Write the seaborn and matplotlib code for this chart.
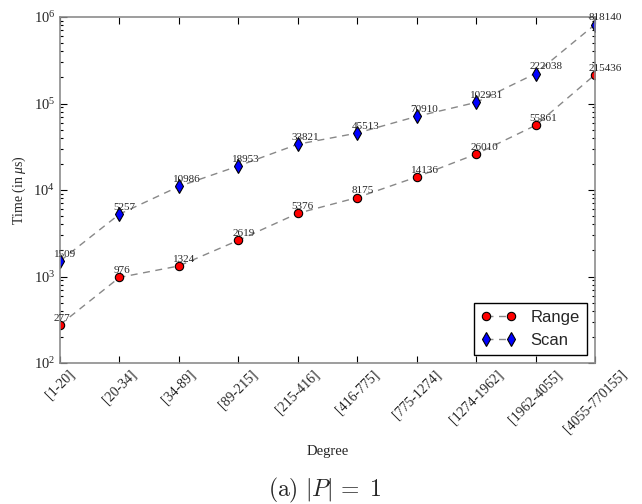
import numpy as np
import pandas as pd
import matplotlib
matplotlib.use("Agg")
import matplotlib.pyplot as plt
from matplotlib.ticker import LogLocator, NullLocator, FixedLocator
import seaborn as sns

# degree buckets and measured times (in microseconds)
categories = ["[1-20]", "[20-34]", "[34-89]", "[89-215]", "[215-416]",
              "[416-775]", "[775-1274]", "[1274-1962]", "[1962-4055]",
              "[4055-770155]"]
range_times = [277, 976, 1324, 2619, 5376, 8175, 14136, 26010, 55861, 215436]
scan_times = [1509, 5257, 10986, 18953, 33821, 45513, 70910, 102931, 222038, 818140]

sns.set_style("ticks")
plt.rcParams["font.family"] = ["Liberation Serif", "DejaVu Serif"]
plt.rcParams["mathtext.fontset"] = "custom"
plt.rcParams["mathtext.rm"] = "Liberation Serif"
plt.rcParams["mathtext.it"] = "Liberation Serif:italic"

df = pd.DataFrame({
    "pos": np.arange(len(categories)),
    "Range": range_times,
    "Scan": scan_times,
})

fig = plt.figure(figsize=(6.42, 5.04), dpi=100)
ax = fig.add_axes([60 / 642, 1 - 363 / 504, 535 / 642, 346 / 504])

dash = (0, (5, 4))
sns.lineplot(data=df, x="pos", y="Range", ax=ax, color="#888888", lw=1,
             linestyle=dash, marker="o", markersize=6, markerfacecolor="red",
             markeredgecolor="black", markeredgewidth=0.8, label="Range")
sns.lineplot(data=df, x="pos", y="Scan", ax=ax, color="#888888", lw=1,
             linestyle=dash, marker="d", markersize=7.5, markerfacecolor="blue",
             markeredgecolor="black", markeredgewidth=0.8, label="Scan")

# value labels just above each point
for series in ["Range", "Scan"]:
    for x, v in zip(df["pos"], df[series]):
        ax.annotate(str(v), (x, v), xytext=(-4.3, 3), textcoords="offset points",
                    ha="left", va="baseline", fontsize=8, clip_on=False)

ax.set_yscale("log")
ax.set_ylim(1e2, 1e6)
ax.set_xlim(0, len(categories) - 1)
ax.yaxis.set_major_locator(LogLocator(base=10))
ax.yaxis.set_minor_locator(LogLocator(base=10, subs=np.arange(2, 10)))
ax.xaxis.set_major_locator(FixedLocator(df["pos"]))
ax.xaxis.set_minor_locator(NullLocator())
ax.set_xticklabels(categories, rotation=45, ha="center", fontsize=10)
ax.tick_params(axis="y", labelsize=10.5)

ax.tick_params(which="both", direction="in", top=True, right=True,
               color="black", width=0.8)
ax.tick_params(which="major", length=5)
ax.tick_params(which="minor", length=2.5)
for sp in ax.spines.values():
    sp.set_color("#8c8c8c")
    sp.set_linewidth(1.2)

ax.set_xlabel("Degree", fontsize=10.5)
ax.set_ylabel(r"Time (in $\mu$s)", fontsize=10)
ax.xaxis.set_label_coords(0.5, -0.237)
ax.yaxis.set_label_coords(-0.06, 0.5)

leg = ax.legend(loc="lower right", numpoints=2, frameon=True, fancybox=False,
                edgecolor="black", framealpha=1,
                prop={"family": "Liberation Sans", "size": 12},
                handlelength=2.1, handletextpad=0.85, borderaxespad=0.5,
                labelspacing=0.45, borderpad=0.42)
leg.get_frame().set_linewidth(1.0)

fig.text(0.506, 1 - 490 / 504, r"$\mathrm{(a)}\ |P|\,{=}\;1$", ha="center",
         va="center", fontsize=17, math_fontfamily="cm")

plt.savefig("out.png", dpi=100)
plt.close()
